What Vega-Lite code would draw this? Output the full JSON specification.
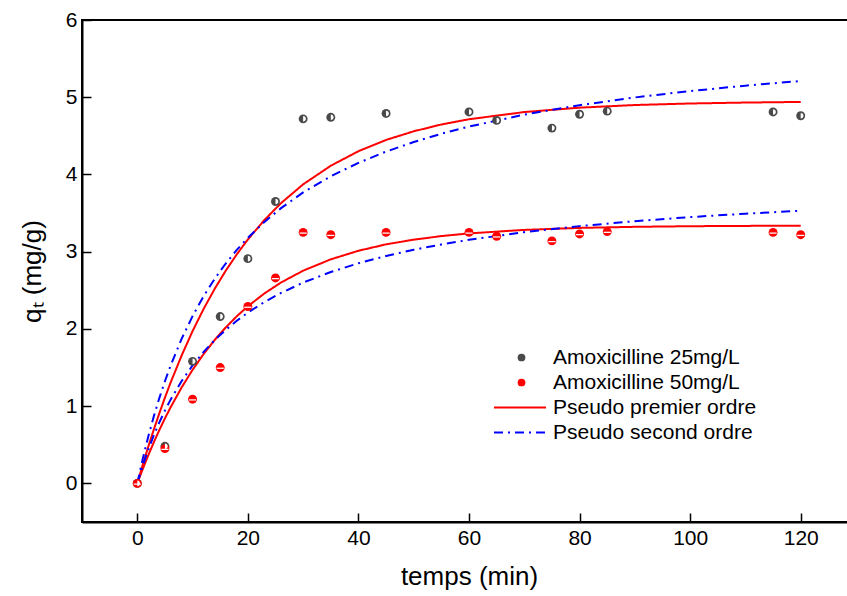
{
  "$schema": "https://vega.github.io/schema/vega-lite/v6.json",
  "width": 774,
  "height": 502,
  "autosize": {"type": "none"},
  "padding": {"left": 82, "top": 20, "right": 0, "bottom": 74},
  "background": "white",
  "config": {
    "font": "Liberation Sans",
    "view": {"stroke": "black", "strokeWidth": 2},
    "axis": {
      "grid": false,
      "domainColor": "black",
      "domainWidth": 2,
      "tickColor": "black",
      "tickWidth": 1.5,
      "tickSize": -9,
      "labelColor": "black",
      "labelFontSize": 21,
      "titleColor": "black",
      "titleFontSize": 26,
      "titleFontWeight": "normal"
    },
    "legend": {
      "labelFontSize": 21,
      "labelColor": "black",
      "labelLimit": 400,
      "padding": 0
    }
  },
  "datasets": {
    "points": [
      {"t": 0, "q": 0, "s": "Amoxicilline 25mg/L"},
      {"t": 5, "q": 0.48, "s": "Amoxicilline 25mg/L"},
      {"t": 10, "q": 1.58, "s": "Amoxicilline 25mg/L"},
      {"t": 15, "q": 2.16, "s": "Amoxicilline 25mg/L"},
      {"t": 20, "q": 2.91, "s": "Amoxicilline 25mg/L"},
      {"t": 25, "q": 3.65, "s": "Amoxicilline 25mg/L"},
      {"t": 30, "q": 4.72, "s": "Amoxicilline 25mg/L"},
      {"t": 35, "q": 4.74, "s": "Amoxicilline 25mg/L"},
      {"t": 45, "q": 4.79, "s": "Amoxicilline 25mg/L"},
      {"t": 60, "q": 4.81, "s": "Amoxicilline 25mg/L"},
      {"t": 65, "q": 4.70, "s": "Amoxicilline 25mg/L"},
      {"t": 75, "q": 4.60, "s": "Amoxicilline 25mg/L"},
      {"t": 80, "q": 4.78, "s": "Amoxicilline 25mg/L"},
      {"t": 85, "q": 4.82, "s": "Amoxicilline 25mg/L"},
      {"t": 115, "q": 4.81, "s": "Amoxicilline 25mg/L"},
      {"t": 120, "q": 4.76, "s": "Amoxicilline 25mg/L"},
      {"t": 0, "q": 0, "s": "Amoxicilline 50mg/L"},
      {"t": 5, "q": 0.45, "s": "Amoxicilline 50mg/L"},
      {"t": 10, "q": 1.09, "s": "Amoxicilline 50mg/L"},
      {"t": 15, "q": 1.50, "s": "Amoxicilline 50mg/L"},
      {"t": 20, "q": 2.29, "s": "Amoxicilline 50mg/L"},
      {"t": 25, "q": 2.66, "s": "Amoxicilline 50mg/L"},
      {"t": 30, "q": 3.25, "s": "Amoxicilline 50mg/L"},
      {"t": 35, "q": 3.22, "s": "Amoxicilline 50mg/L"},
      {"t": 45, "q": 3.25, "s": "Amoxicilline 50mg/L"},
      {"t": 60, "q": 3.25, "s": "Amoxicilline 50mg/L"},
      {"t": 65, "q": 3.20, "s": "Amoxicilline 50mg/L"},
      {"t": 75, "q": 3.14, "s": "Amoxicilline 50mg/L"},
      {"t": 80, "q": 3.23, "s": "Amoxicilline 50mg/L"},
      {"t": 85, "q": 3.26, "s": "Amoxicilline 50mg/L"},
      {"t": 115, "q": 3.25, "s": "Amoxicilline 50mg/L"},
      {"t": 120, "q": 3.22, "s": "Amoxicilline 50mg/L"}
    ],
    "curves": [
      {"m": "Pseudo premier ordre", "c": 25, "t": 0, "q": 0},
      {"m": "Pseudo premier ordre", "c": 25, "t": 1, "q": 0.245},
      {"m": "Pseudo premier ordre", "c": 25, "t": 2, "q": 0.478},
      {"m": "Pseudo premier ordre", "c": 25, "t": 3, "q": 0.699},
      {"m": "Pseudo premier ordre", "c": 25, "t": 4, "q": 0.910},
      {"m": "Pseudo premier ordre", "c": 25, "t": 5, "q": 1.110},
      {"m": "Pseudo premier ordre", "c": 25, "t": 6, "q": 1.300},
      {"m": "Pseudo premier ordre", "c": 25, "t": 8, "q": 1.652},
      {"m": "Pseudo premier ordre", "c": 25, "t": 10, "q": 1.972},
      {"m": "Pseudo premier ordre", "c": 25, "t": 12, "q": 2.259},
      {"m": "Pseudo premier ordre", "c": 25, "t": 14, "q": 2.519},
      {"m": "Pseudo premier ordre", "c": 25, "t": 16, "q": 2.754},
      {"m": "Pseudo premier ordre", "c": 25, "t": 18, "q": 2.966},
      {"m": "Pseudo premier ordre", "c": 25, "t": 20, "q": 3.158},
      {"m": "Pseudo premier ordre", "c": 25, "t": 23, "q": 3.411},
      {"m": "Pseudo premier ordre", "c": 25, "t": 26, "q": 3.629},
      {"m": "Pseudo premier ordre", "c": 25, "t": 30, "q": 3.872},
      {"m": "Pseudo premier ordre", "c": 25, "t": 35, "q": 4.113},
      {"m": "Pseudo premier ordre", "c": 25, "t": 40, "q": 4.301},
      {"m": "Pseudo premier ordre", "c": 25, "t": 45, "q": 4.447},
      {"m": "Pseudo premier ordre", "c": 25, "t": 50, "q": 4.559},
      {"m": "Pseudo premier ordre", "c": 25, "t": 55, "q": 4.647},
      {"m": "Pseudo premier ordre", "c": 25, "t": 60, "q": 4.715},
      {"m": "Pseudo premier ordre", "c": 25, "t": 70, "q": 4.808},
      {"m": "Pseudo premier ordre", "c": 25, "t": 80, "q": 4.865},
      {"m": "Pseudo premier ordre", "c": 25, "t": 90, "q": 4.899},
      {"m": "Pseudo premier ordre", "c": 25, "t": 100, "q": 4.919},
      {"m": "Pseudo premier ordre", "c": 25, "t": 110, "q": 4.931},
      {"m": "Pseudo premier ordre", "c": 25, "t": 120, "q": 4.939},
      {"m": "Pseudo premier ordre", "c": 50, "t": 0, "q": 0},
      {"m": "Pseudo premier ordre", "c": 50, "t": 1, "q": 0.188},
      {"m": "Pseudo premier ordre", "c": 50, "t": 2, "q": 0.366},
      {"m": "Pseudo premier ordre", "c": 50, "t": 3, "q": 0.534},
      {"m": "Pseudo premier ordre", "c": 50, "t": 4, "q": 0.692},
      {"m": "Pseudo premier ordre", "c": 50, "t": 5, "q": 0.841},
      {"m": "Pseudo premier ordre", "c": 50, "t": 6, "q": 0.982},
      {"m": "Pseudo premier ordre", "c": 50, "t": 8, "q": 1.240},
      {"m": "Pseudo premier ordre", "c": 50, "t": 10, "q": 1.470},
      {"m": "Pseudo premier ordre", "c": 50, "t": 12, "q": 1.675},
      {"m": "Pseudo premier ordre", "c": 50, "t": 14, "q": 1.857},
      {"m": "Pseudo premier ordre", "c": 50, "t": 16, "q": 2.019},
      {"m": "Pseudo premier ordre", "c": 50, "t": 18, "q": 2.164},
      {"m": "Pseudo premier ordre", "c": 50, "t": 20, "q": 2.293},
      {"m": "Pseudo premier ordre", "c": 50, "t": 23, "q": 2.460},
      {"m": "Pseudo premier ordre", "c": 50, "t": 26, "q": 2.601},
      {"m": "Pseudo premier ordre", "c": 50, "t": 30, "q": 2.754},
      {"m": "Pseudo premier ordre", "c": 50, "t": 35, "q": 2.901},
      {"m": "Pseudo premier ordre", "c": 50, "t": 40, "q": 3.012},
      {"m": "Pseudo premier ordre", "c": 50, "t": 45, "q": 3.095},
      {"m": "Pseudo premier ordre", "c": 50, "t": 50, "q": 3.156},
      {"m": "Pseudo premier ordre", "c": 50, "t": 55, "q": 3.202},
      {"m": "Pseudo premier ordre", "c": 50, "t": 60, "q": 3.237},
      {"m": "Pseudo premier ordre", "c": 50, "t": 70, "q": 3.282},
      {"m": "Pseudo premier ordre", "c": 50, "t": 80, "q": 3.308},
      {"m": "Pseudo premier ordre", "c": 50, "t": 90, "q": 3.322},
      {"m": "Pseudo premier ordre", "c": 50, "t": 100, "q": 3.330},
      {"m": "Pseudo premier ordre", "c": 50, "t": 110, "q": 3.334},
      {"m": "Pseudo premier ordre", "c": 50, "t": 120, "q": 3.337},
      {"m": "Pseudo second ordre", "c": 25, "t": 0, "q": 0},
      {"m": "Pseudo second ordre", "c": 25, "t": 1, "q": 0.322},
      {"m": "Pseudo second ordre", "c": 25, "t": 2, "q": 0.610},
      {"m": "Pseudo second ordre", "c": 25, "t": 3, "q": 0.871},
      {"m": "Pseudo second ordre", "c": 25, "t": 4, "q": 1.108},
      {"m": "Pseudo second ordre", "c": 25, "t": 5, "q": 1.323},
      {"m": "Pseudo second ordre", "c": 25, "t": 6, "q": 1.520},
      {"m": "Pseudo second ordre", "c": 25, "t": 8, "q": 1.869},
      {"m": "Pseudo second ordre", "c": 25, "t": 10, "q": 2.166},
      {"m": "Pseudo second ordre", "c": 25, "t": 12, "q": 2.424},
      {"m": "Pseudo second ordre", "c": 25, "t": 14, "q": 2.649},
      {"m": "Pseudo second ordre", "c": 25, "t": 16, "q": 2.847},
      {"m": "Pseudo second ordre", "c": 25, "t": 18, "q": 3.023},
      {"m": "Pseudo second ordre", "c": 25, "t": 20, "q": 3.180},
      {"m": "Pseudo second ordre", "c": 25, "t": 23, "q": 3.386},
      {"m": "Pseudo second ordre", "c": 25, "t": 26, "q": 3.564},
      {"m": "Pseudo second ordre", "c": 25, "t": 30, "q": 3.767},
      {"m": "Pseudo second ordre", "c": 25, "t": 35, "q": 3.977},
      {"m": "Pseudo second ordre", "c": 25, "t": 40, "q": 4.150},
      {"m": "Pseudo second ordre", "c": 25, "t": 45, "q": 4.296},
      {"m": "Pseudo second ordre", "c": 25, "t": 50, "q": 4.420},
      {"m": "Pseudo second ordre", "c": 25, "t": 55, "q": 4.527},
      {"m": "Pseudo second ordre", "c": 25, "t": 60, "q": 4.620},
      {"m": "Pseudo second ordre", "c": 25, "t": 70, "q": 4.775},
      {"m": "Pseudo second ordre", "c": 25, "t": 80, "q": 4.897},
      {"m": "Pseudo second ordre", "c": 25, "t": 90, "q": 4.997},
      {"m": "Pseudo second ordre", "c": 25, "t": 100, "q": 5.080},
      {"m": "Pseudo second ordre", "c": 25, "t": 110, "q": 5.150},
      {"m": "Pseudo second ordre", "c": 25, "t": 120, "q": 5.210},
      {"m": "Pseudo second ordre", "c": 50, "t": 0, "q": 0},
      {"m": "Pseudo second ordre", "c": 50, "t": 1, "q": 0.232},
      {"m": "Pseudo second ordre", "c": 50, "t": 2, "q": 0.439},
      {"m": "Pseudo second ordre", "c": 50, "t": 3, "q": 0.625},
      {"m": "Pseudo second ordre", "c": 50, "t": 4, "q": 0.792},
      {"m": "Pseudo second ordre", "c": 50, "t": 5, "q": 0.943},
      {"m": "Pseudo second ordre", "c": 50, "t": 6, "q": 1.081},
      {"m": "Pseudo second ordre", "c": 50, "t": 8, "q": 1.322},
      {"m": "Pseudo second ordre", "c": 50, "t": 10, "q": 1.527},
      {"m": "Pseudo second ordre", "c": 50, "t": 12, "q": 1.703},
      {"m": "Pseudo second ordre", "c": 50, "t": 14, "q": 1.855},
      {"m": "Pseudo second ordre", "c": 50, "t": 16, "q": 1.988},
      {"m": "Pseudo second ordre", "c": 50, "t": 18, "q": 2.106},
      {"m": "Pseudo second ordre", "c": 50, "t": 20, "q": 2.211},
      {"m": "Pseudo second ordre", "c": 50, "t": 23, "q": 2.349},
      {"m": "Pseudo second ordre", "c": 50, "t": 26, "q": 2.466},
      {"m": "Pseudo second ordre", "c": 50, "t": 30, "q": 2.600},
      {"m": "Pseudo second ordre", "c": 50, "t": 35, "q": 2.737},
      {"m": "Pseudo second ordre", "c": 50, "t": 40, "q": 2.850},
      {"m": "Pseudo second ordre", "c": 50, "t": 45, "q": 2.945},
      {"m": "Pseudo second ordre", "c": 50, "t": 50, "q": 3.025},
      {"m": "Pseudo second ordre", "c": 50, "t": 55, "q": 3.094},
      {"m": "Pseudo second ordre", "c": 50, "t": 60, "q": 3.154},
      {"m": "Pseudo second ordre", "c": 50, "t": 70, "q": 3.253},
      {"m": "Pseudo second ordre", "c": 50, "t": 80, "q": 3.331},
      {"m": "Pseudo second ordre", "c": 50, "t": 90, "q": 3.395},
      {"m": "Pseudo second ordre", "c": 50, "t": 100, "q": 3.448},
      {"m": "Pseudo second ordre", "c": 50, "t": 110, "q": 3.492},
      {"m": "Pseudo second ordre", "c": 50, "t": 120, "q": 3.530}
    ]
  },
  "encoding": {
    "x": {
      "field": "t", "type": "quantitative",
      "scale": {"domain": [-10, 130], "nice": false, "zero": false},
      "axis": {"values": [0, 20, 40, 60, 80, 100, 120], "title": "temps (min)", "labelPadding": 14, "titlePadding": 15}
    },
    "y": {
      "field": "q", "type": "quantitative",
      "scale": {"domain": [-0.5, 6], "nice": false, "zero": false},
      "axis": {"values": [0, 1, 2, 3, 4, 5, 6], "title": "qₜ (mg/g)", "labelPadding": 14, "titlePadding": 20}
    }
  },
  "layer": [
    {
      "data": {"name": "curves"},
      "mark": {"type": "line", "strokeWidth": 2},
      "encoding": {
        "color": {
          "field": "m", "type": "nominal",
          "scale": {"domain": ["Pseudo premier ordre", "Pseudo second ordre"], "range": ["#ff0000", "#0000ff"]},
          "legend": {
            "title": null, "orient": "none", "legendX": 411, "legendY": 375,
            "symbolType": "stroke", "symbolSize": 2704, "symbolStrokeWidth": 2,
            "labelOffset": 6, "rowPadding": 0, "clipHeight": 25,
            "encode": {"symbols": {"update": {
              "strokeDash": {"signal": "datum.value == 'Pseudo second ordre' ? [9, 5, 2, 5] : [1, 0]"}
            }}}
          }
        },
        "strokeDash": {
          "field": "m", "type": "nominal",
          "scale": {"domain": ["Pseudo premier ordre", "Pseudo second ordre"], "range": [[1, 0], [9, 5, 2, 5]]},
          "legend": null
        },
        "detail": {"field": "c", "type": "nominal"}
      }
    },
    {
      "data": {"name": "points"},
      "mark": {"type": "point", "filled": true, "shape": "circle", "opacity": 1, "size": 80},
      "encoding": {
        "color": {
          "field": "s", "type": "nominal",
          "scale": {"domain": ["Amoxicilline 25mg/L", "Amoxicilline 50mg/L"], "range": ["#4a4a4a", "#ff0000"]},
          "legend": {"title": null, "orient": "none", "legendX": 429, "legendY": 325, "symbolSize": 60, "labelOffset": 21, "rowPadding": 0, "clipHeight": 25}
        }
      }
    },
    {
      "data": {"name": "points"},
      "mark": {"type": "point", "filled": true, "fill": "white", "opacity": 1, "size": 80},
      "encoding": {
        "shape": {
          "field": "s", "type": "nominal",
          "scale": {"domain": ["Amoxicilline 25mg/L", "Amoxicilline 50mg/L"], "range": ["M0,-0.62 A0.62,0.62 0 0,1 0,0.62 Z", "M-0.8,0.02 L0.8,0.02 L0.8,0.3 L-0.8,0.3 Z"]},
          "legend": null
        }
      }
    }
  ],
  "resolve": {"scale": {"color": "independent"}}
}
